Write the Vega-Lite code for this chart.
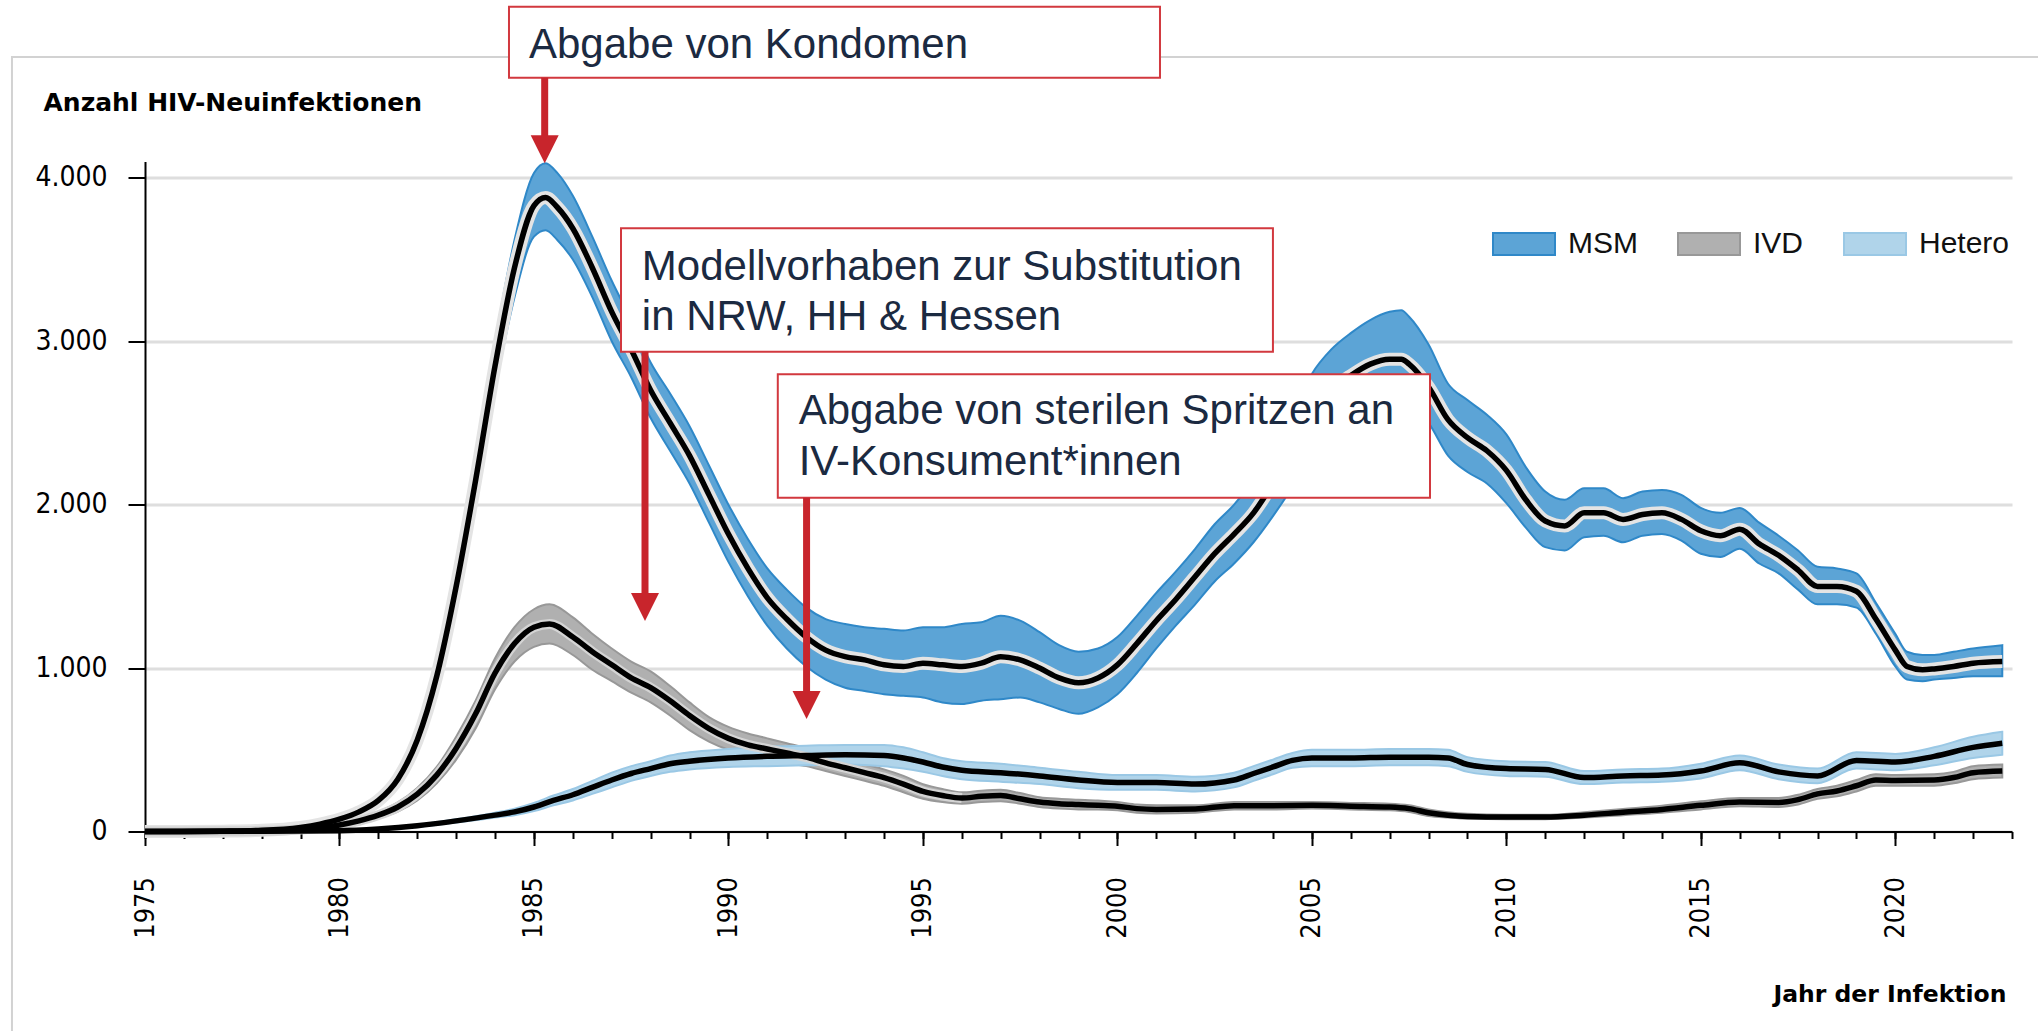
{
  "$schema": "https://vega.github.io/schema/vega-lite/v6.json",
  "width": 1867,
  "height": 670,
  "autosize": {"type": "none"},
  "padding": {"left": 145, "top": 161.5, "right": 26, "bottom": 199.5},
  "background": "white",
  "config": {"view": {"stroke": null}},
  "resolve": {"axis": {"x": "independent"}},
  "datasets": {
    "frame": [{"x": 1971.58, "x2": 2030, "v": 4739.6, "v2": -3000}],
    "curves": [
      {"g":"MSM","x":1975,"lo":0,"m":0,"hi":0},
      {"g":"MSM","x":1976,"lo":0,"m":0,"hi":1},
      {"g":"MSM","x":1977,"lo":0,"m":2,"hi":4},
      {"g":"MSM","x":1978,"lo":4,"m":7,"hi":10},
      {"g":"MSM","x":1979,"lo":18,"m":25,"hi":32},
      {"g":"MSM","x":1979.5,"lo":35,"m":45,"hi":55},
      {"g":"MSM","x":1980,"lo":62,"m":75,"hi":88},
      {"g":"MSM","x":1980.5,"lo":102,"m":120,"hi":138},
      {"g":"MSM","x":1981,"lo":165,"m":190,"hi":215},
      {"g":"MSM","x":1981.5,"lo":285,"m":320,"hi":355},
      {"g":"MSM","x":1982,"lo":505,"m":560,"hi":615},
      {"g":"MSM","x":1982.5,"lo":870,"m":950,"hi":1030},
      {"g":"MSM","x":1983,"lo":1390,"m":1500,"hi":1610},
      {"g":"MSM","x":1983.5,"lo":2020,"m":2150,"hi":2280},
      {"g":"MSM","x":1984,"lo":2700,"m":2850,"hi":3000},
      {"g":"MSM","x":1984.5,"lo":3270,"m":3450,"hi":3620},
      {"g":"MSM","x":1985,"lo":3640,"m":3830,"hi":4030},
      {"g":"MSM","x":1985.3,"lo":3680,"m":3880,"hi":4090},
      {"g":"MSM","x":1985.6,"lo":3620,"m":3820,"hi":4030},
      {"g":"MSM","x":1986,"lo":3500,"m":3690,"hi":3890},
      {"g":"MSM","x":1986.5,"lo":3270,"m":3450,"hi":3640},
      {"g":"MSM","x":1987,"lo":3000,"m":3180,"hi":3370},
      {"g":"MSM","x":1987.5,"lo":2780,"m":2950,"hi":3130},
      {"g":"MSM","x":1988,"lo":2530,"m":2700,"hi":2870},
      {"g":"MSM","x":1988.5,"lo":2330,"m":2500,"hi":2680},
      {"g":"MSM","x":1989,"lo":2130,"m":2300,"hi":2480},
      {"g":"MSM","x":1989.5,"lo":1890,"m":2060,"hi":2240},
      {"g":"MSM","x":1990,"lo":1650,"m":1820,"hi":2000},
      {"g":"MSM","x":1990.5,"lo":1440,"m":1610,"hi":1790},
      {"g":"MSM","x":1991,"lo":1260,"m":1430,"hi":1610},
      {"g":"MSM","x":1991.5,"lo":1120,"m":1300,"hi":1480},
      {"g":"MSM","x":1992,"lo":1010,"m":1190,"hi":1370},
      {"g":"MSM","x":1992.5,"lo":930,"m":1110,"hi":1300},
      {"g":"MSM","x":1993,"lo":880,"m":1070,"hi":1270},
      {"g":"MSM","x":1993.5,"lo":860,"m":1050,"hi":1250},
      {"g":"MSM","x":1994,"lo":840,"m":1020,"hi":1240},
      {"g":"MSM","x":1994.5,"lo":830,"m":1010,"hi":1230},
      {"g":"MSM","x":1995,"lo":820,"m":1030,"hi":1250},
      {"g":"MSM","x":1995.5,"lo":790,"m":1020,"hi":1250},
      {"g":"MSM","x":1996,"lo":780,"m":1010,"hi":1270},
      {"g":"MSM","x":1996.5,"lo":800,"m":1030,"hi":1280},
      {"g":"MSM","x":1997,"lo":810,"m":1070,"hi":1320},
      {"g":"MSM","x":1997.5,"lo":820,"m":1050,"hi":1290},
      {"g":"MSM","x":1998,"lo":790,"m":1000,"hi":1220},
      {"g":"MSM","x":1998.5,"lo":750,"m":940,"hi":1140},
      {"g":"MSM","x":1999,"lo":720,"m":910,"hi":1100},
      {"g":"MSM","x":1999.5,"lo":760,"m":940,"hi":1120},
      {"g":"MSM","x":2000,"lo":840,"m":1020,"hi":1190},
      {"g":"MSM","x":2000.5,"lo":970,"m":1150,"hi":1320},
      {"g":"MSM","x":2001,"lo":1120,"m":1290,"hi":1460},
      {"g":"MSM","x":2001.5,"lo":1260,"m":1420,"hi":1590},
      {"g":"MSM","x":2002,"lo":1390,"m":1560,"hi":1730},
      {"g":"MSM","x":2002.5,"lo":1530,"m":1700,"hi":1880},
      {"g":"MSM","x":2003,"lo":1640,"m":1820,"hi":2000},
      {"g":"MSM","x":2003.5,"lo":1770,"m":1950,"hi":2150},
      {"g":"MSM","x":2004,"lo":1930,"m":2130,"hi":2330},
      {"g":"MSM","x":2004.5,"lo":2110,"m":2330,"hi":2550},
      {"g":"MSM","x":2005,"lo":2330,"m":2560,"hi":2800},
      {"g":"MSM","x":2005.5,"lo":2470,"m":2700,"hi":2950},
      {"g":"MSM","x":2006,"lo":2550,"m":2790,"hi":3050},
      {"g":"MSM","x":2006.5,"lo":2620,"m":2860,"hi":3130},
      {"g":"MSM","x":2007,"lo":2650,"m":2890,"hi":3180},
      {"g":"MSM","x":2007.3,"lo":2650,"m":2890,"hi":3190},
      {"g":"MSM","x":2007.5,"lo":2620,"m":2860,"hi":3150},
      {"g":"MSM","x":2008,"lo":2500,"m":2720,"hi":2980},
      {"g":"MSM","x":2008.5,"lo":2300,"m":2520,"hi":2740},
      {"g":"MSM","x":2009,"lo":2200,"m":2410,"hi":2640},
      {"g":"MSM","x":2009.5,"lo":2130,"m":2330,"hi":2550},
      {"g":"MSM","x":2010,"lo":2010,"m":2210,"hi":2430},
      {"g":"MSM","x":2010.5,"lo":1860,"m":2030,"hi":2230},
      {"g":"MSM","x":2011,"lo":1740,"m":1900,"hi":2080},
      {"g":"MSM","x":2011.5,"lo":1720,"m":1870,"hi":2030},
      {"g":"MSM","x":2012,"lo":1800,"m":1950,"hi":2100},
      {"g":"MSM","x":2012.5,"lo":1810,"m":1950,"hi":2100},
      {"g":"MSM","x":2013,"lo":1770,"m":1910,"hi":2040},
      {"g":"MSM","x":2013.5,"lo":1810,"m":1940,"hi":2080},
      {"g":"MSM","x":2014,"lo":1820,"m":1950,"hi":2090},
      {"g":"MSM","x":2014.5,"lo":1780,"m":1910,"hi":2060},
      {"g":"MSM","x":2015,"lo":1700,"m":1840,"hi":1980},
      {"g":"MSM","x":2015.5,"lo":1680,"m":1810,"hi":1950},
      {"g":"MSM","x":2016,"lo":1730,"m":1850,"hi":1980},
      {"g":"MSM","x":2016.5,"lo":1640,"m":1760,"hi":1890},
      {"g":"MSM","x":2017,"lo":1580,"m":1690,"hi":1810},
      {"g":"MSM","x":2017.5,"lo":1480,"m":1600,"hi":1720},
      {"g":"MSM","x":2018,"lo":1390,"m":1500,"hi":1620},
      {"g":"MSM","x":2018.5,"lo":1390,"m":1500,"hi":1610},
      {"g":"MSM","x":2019,"lo":1370,"m":1470,"hi":1580},
      {"g":"MSM","x":2019.5,"lo":1210,"m":1300,"hi":1400},
      {"g":"MSM","x":2020,"lo":1010,"m":1110,"hi":1210},
      {"g":"MSM","x":2020.3,"lo":930,"m":1010,"hi":1100},
      {"g":"MSM","x":2020.7,"lo":920,"m":990,"hi":1080},
      {"g":"MSM","x":2021,"lo":930,"m":995,"hi":1080},
      {"g":"MSM","x":2021.5,"lo":940,"m":1010,"hi":1100},
      {"g":"MSM","x":2022,"lo":950,"m":1030,"hi":1120},
      {"g":"MSM","x":2022.75,"lo":950,"m":1040,"hi":1140},

      {"g":"IVD","x":1975,"lo":0,"m":0,"hi":0},
      {"g":"IVD","x":1977,"lo":0,"m":1,"hi":2},
      {"g":"IVD","x":1978,"lo":2,"m":4,"hi":6},
      {"g":"IVD","x":1979,"lo":8,"m":12,"hi":16},
      {"g":"IVD","x":1980,"lo":30,"m":40,"hi":50},
      {"g":"IVD","x":1980.5,"lo":50,"m":65,"hi":80},
      {"g":"IVD","x":1981,"lo":80,"m":100,"hi":120},
      {"g":"IVD","x":1981.5,"lo":122,"m":150,"hi":178},
      {"g":"IVD","x":1982,"lo":190,"m":228,"hi":266},
      {"g":"IVD","x":1982.5,"lo":295,"m":345,"hi":395},
      {"g":"IVD","x":1983,"lo":440,"m":510,"hi":580},
      {"g":"IVD","x":1983.5,"lo":630,"m":720,"hi":800},
      {"g":"IVD","x":1984,"lo":870,"m":970,"hi":1060},
      {"g":"IVD","x":1984.5,"lo":1040,"m":1150,"hi":1250},
      {"g":"IVD","x":1985,"lo":1130,"m":1250,"hi":1360},
      {"g":"IVD","x":1985.4,"lo":1150,"m":1270,"hi":1390},
      {"g":"IVD","x":1986,"lo":1080,"m":1190,"hi":1310},
      {"g":"IVD","x":1986.5,"lo":990,"m":1100,"hi":1210},
      {"g":"IVD","x":1987,"lo":920,"m":1020,"hi":1120},
      {"g":"IVD","x":1987.5,"lo":850,"m":940,"hi":1040},
      {"g":"IVD","x":1988,"lo":790,"m":880,"hi":980},
      {"g":"IVD","x":1988.5,"lo":710,"m":800,"hi":890},
      {"g":"IVD","x":1989,"lo":620,"m":710,"hi":790},
      {"g":"IVD","x":1989.5,"lo":550,"m":630,"hi":700},
      {"g":"IVD","x":1990,"lo":500,"m":570,"hi":640},
      {"g":"IVD","x":1990.5,"lo":470,"m":530,"hi":600},
      {"g":"IVD","x":1991,"lo":440,"m":505,"hi":570},
      {"g":"IVD","x":1991.5,"lo":420,"m":480,"hi":540},
      {"g":"IVD","x":1992,"lo":400,"m":455,"hi":510},
      {"g":"IVD","x":1992.5,"lo":370,"m":420,"hi":470},
      {"g":"IVD","x":1993,"lo":340,"m":390,"hi":440},
      {"g":"IVD","x":1993.5,"lo":310,"m":360,"hi":410},
      {"g":"IVD","x":1994,"lo":280,"m":330,"hi":380},
      {"g":"IVD","x":1994.5,"lo":240,"m":290,"hi":340},
      {"g":"IVD","x":1995,"lo":200,"m":245,"hi":290},
      {"g":"IVD","x":1995.5,"lo":180,"m":220,"hi":260},
      {"g":"IVD","x":1996,"lo":170,"m":205,"hi":240},
      {"g":"IVD","x":1996.5,"lo":180,"m":215,"hi":250},
      {"g":"IVD","x":1997,"lo":185,"m":220,"hi":255},
      {"g":"IVD","x":1997.5,"lo":170,"m":200,"hi":235},
      {"g":"IVD","x":1998,"lo":150,"m":180,"hi":210},
      {"g":"IVD","x":1998.5,"lo":140,"m":170,"hi":200},
      {"g":"IVD","x":1999,"lo":135,"m":165,"hi":195},
      {"g":"IVD","x":1999.5,"lo":135,"m":160,"hi":190},
      {"g":"IVD","x":2000,"lo":130,"m":155,"hi":180},
      {"g":"IVD","x":2000.5,"lo":115,"m":140,"hi":165},
      {"g":"IVD","x":2001,"lo":110,"m":135,"hi":160},
      {"g":"IVD","x":2002,"lo":115,"m":138,"hi":160},
      {"g":"IVD","x":2003,"lo":135,"m":158,"hi":180},
      {"g":"IVD","x":2004,"lo":135,"m":158,"hi":180},
      {"g":"IVD","x":2005,"lo":140,"m":160,"hi":180},
      {"g":"IVD","x":2006,"lo":135,"m":155,"hi":175},
      {"g":"IVD","x":2007,"lo":130,"m":150,"hi":170},
      {"g":"IVD","x":2007.5,"lo":120,"m":140,"hi":160},
      {"g":"IVD","x":2008,"lo":95,"m":115,"hi":135},
      {"g":"IVD","x":2008.5,"lo":85,"m":100,"hi":118},
      {"g":"IVD","x":2009,"lo":78,"m":92,"hi":108},
      {"g":"IVD","x":2010,"lo":75,"m":88,"hi":102},
      {"g":"IVD","x":2011,"lo":75,"m":88,"hi":102},
      {"g":"IVD","x":2012,"lo":85,"m":100,"hi":118},
      {"g":"IVD","x":2013,"lo":100,"m":118,"hi":138},
      {"g":"IVD","x":2014,"lo":115,"m":135,"hi":158},
      {"g":"IVD","x":2015,"lo":135,"m":160,"hi":185},
      {"g":"IVD","x":2016,"lo":155,"m":180,"hi":205},
      {"g":"IVD","x":2017,"lo":150,"m":178,"hi":205},
      {"g":"IVD","x":2017.5,"lo":165,"m":195,"hi":225},
      {"g":"IVD","x":2018,"lo":200,"m":230,"hi":260},
      {"g":"IVD","x":2018.5,"lo":215,"m":248,"hi":280},
      {"g":"IVD","x":2019,"lo":245,"m":280,"hi":315},
      {"g":"IVD","x":2019.5,"lo":280,"m":315,"hi":350},
      {"g":"IVD","x":2020,"lo":280,"m":312,"hi":345},
      {"g":"IVD","x":2021,"lo":280,"m":315,"hi":350},
      {"g":"IVD","x":2021.5,"lo":295,"m":330,"hi":365},
      {"g":"IVD","x":2022,"lo":320,"m":360,"hi":400},
      {"g":"IVD","x":2022.75,"lo":330,"m":370,"hi":410},

      {"g":"Hetero","x":1975,"lo":0,"m":0,"hi":0},
      {"g":"Hetero","x":1978,"lo":0,"m":1,"hi":2},
      {"g":"Hetero","x":1980,"lo":2,"m":4,"hi":6},
      {"g":"Hetero","x":1981,"lo":10,"m":15,"hi":20},
      {"g":"Hetero","x":1982,"lo":28,"m":35,"hi":42},
      {"g":"Hetero","x":1983,"lo":55,"m":65,"hi":75},
      {"g":"Hetero","x":1984,"lo":85,"m":100,"hi":115},
      {"g":"Hetero","x":1984.5,"lo":100,"m":120,"hi":140},
      {"g":"Hetero","x":1985,"lo":125,"m":150,"hi":175},
      {"g":"Hetero","x":1985.5,"lo":160,"m":190,"hi":220},
      {"g":"Hetero","x":1986,"lo":190,"m":225,"hi":260},
      {"g":"Hetero","x":1986.5,"lo":230,"m":270,"hi":310},
      {"g":"Hetero","x":1987,"lo":270,"m":315,"hi":360},
      {"g":"Hetero","x":1987.5,"lo":310,"m":355,"hi":400},
      {"g":"Hetero","x":1988,"lo":340,"m":385,"hi":430},
      {"g":"Hetero","x":1988.5,"lo":365,"m":415,"hi":465},
      {"g":"Hetero","x":1989,"lo":380,"m":430,"hi":485},
      {"g":"Hetero","x":1990,"lo":395,"m":450,"hi":505},
      {"g":"Hetero","x":1991,"lo":400,"m":460,"hi":520},
      {"g":"Hetero","x":1992,"lo":405,"m":465,"hi":525},
      {"g":"Hetero","x":1993,"lo":410,"m":470,"hi":530},
      {"g":"Hetero","x":1994,"lo":400,"m":465,"hi":530},
      {"g":"Hetero","x":1994.5,"lo":385,"m":450,"hi":515},
      {"g":"Hetero","x":1995,"lo":365,"m":425,"hi":485},
      {"g":"Hetero","x":1995.5,"lo":340,"m":395,"hi":450},
      {"g":"Hetero","x":1996,"lo":320,"m":375,"hi":430},
      {"g":"Hetero","x":1997,"lo":305,"m":360,"hi":415},
      {"g":"Hetero","x":1998,"lo":290,"m":340,"hi":390},
      {"g":"Hetero","x":1999,"lo":265,"m":315,"hi":365},
      {"g":"Hetero","x":2000,"lo":255,"m":300,"hi":345},
      {"g":"Hetero","x":2001,"lo":255,"m":300,"hi":345},
      {"g":"Hetero","x":2002,"lo":245,"m":290,"hi":335},
      {"g":"Hetero","x":2003,"lo":270,"m":315,"hi":360},
      {"g":"Hetero","x":2003.5,"lo":310,"m":355,"hi":400},
      {"g":"Hetero","x":2004,"lo":350,"m":395,"hi":440},
      {"g":"Hetero","x":2004.5,"lo":390,"m":435,"hi":480},
      {"g":"Hetero","x":2005,"lo":400,"m":450,"hi":500},
      {"g":"Hetero","x":2006,"lo":400,"m":450,"hi":500},
      {"g":"Hetero","x":2007,"lo":405,"m":455,"hi":505},
      {"g":"Hetero","x":2008,"lo":405,"m":455,"hi":505},
      {"g":"Hetero","x":2008.5,"lo":400,"m":450,"hi":500},
      {"g":"Hetero","x":2009,"lo":365,"m":410,"hi":455},
      {"g":"Hetero","x":2010,"lo":340,"m":385,"hi":430},
      {"g":"Hetero","x":2011,"lo":335,"m":380,"hi":425},
      {"g":"Hetero","x":2012,"lo":290,"m":330,"hi":370},
      {"g":"Hetero","x":2013,"lo":300,"m":340,"hi":380},
      {"g":"Hetero","x":2014,"lo":305,"m":345,"hi":385},
      {"g":"Hetero","x":2015,"lo":325,"m":370,"hi":415},
      {"g":"Hetero","x":2016,"lo":375,"m":420,"hi":465},
      {"g":"Hetero","x":2017,"lo":320,"m":365,"hi":410},
      {"g":"Hetero","x":2018,"lo":295,"m":340,"hi":385},
      {"g":"Hetero","x":2019,"lo":385,"m":435,"hi":485},
      {"g":"Hetero","x":2020,"lo":375,"m":425,"hi":475},
      {"g":"Hetero","x":2021,"lo":405,"m":460,"hi":515},
      {"g":"Hetero","x":2022,"lo":450,"m":515,"hi":580},
      {"g":"Hetero","x":2022.75,"lo":470,"m":540,"hi":610}
    ],
    "arrows": [
      {"x": 1985.276, "v": 4612.8, "v2": 4209, "tip": 4089},
      {"x": 1987.855, "v": 2936.1, "v2": 1408, "tip": 1288},
      {"x": 1992.009, "v": 2042.7, "v2": 808, "tip": 688}
    ],
    "boxes": [
      {"x": 1984.358, "x2": 2001.095, "v": 5047.3, "v2": 4612.8},
      {"x": 1987.238, "x2": 2003.999, "v": 3691.3, "v2": 2936.1},
      {"x": 1991.269, "x2": 2008.037, "v": 2797.8, "v2": 2042.7}
    ],
    "texts": [
      {"x": 1984.872, "v": 4735.2, "t": "Abgabe von Kondomen"},
      {"x": 1987.773, "v": 3374.8, "t": "Modellvorhaben zur Substitution"},
      {"x": 1987.773, "v": 3068.8, "t": "in NRW, HH & Hessen"},
      {"x": 1991.806, "v": 2493.6, "t": "Abgabe von sterilen Spritzen an"},
      {"x": 1991.806, "v": 2181.5, "t": "IV-Konsument*innen"}
    ]
  },
  "layer": [
    {
      "data": {"name": "curves"},
      "mark": {"type": "area", "interpolate": "monotone", "strokeWidth": 2, "opacity": 1, "fillOpacity": 1},
      "encoding": {
        "x": {
          "field": "x", "type": "quantitative",
          "scale": {"domain": [1975, 2023], "nice": false, "zero": false},
          "axis": {
            "orient": "bottom",
            "values": [1975, 1980, 1985, 1990, 1995, 2000, 2005, 2010, 2015, 2020],
            "format": "d",
            "tickSize": 14,
            "tickColor": "black", "tickWidth": 2,
            "domainColor": "black", "domainWidth": 2,
            "labelAngle": -90, "labelAlign": "right", "labelBaseline": "middle",
            "labelFont": "DejaVu Sans Condensed", "labelFontSize": 27, "labelColor": "black",
            "labelPadding": 31, "labelOverlap": false, "labelFlush": false,
            "grid": false,
            "title": "Jahr der Infektion",
            "titleFont": "DejaVu Sans", "titleFontWeight": "bold", "titleFontSize": 23.5, "titleColor": "black",
            "titleX": 1861, "titleY": 170, "titleAlign": "right", "titleBaseline": "alphabetic"
          }
        },
        "y": {
          "field": "lo", "type": "quantitative",
          "scale": {"domain": [0, 4100], "nice": false},
          "axis": {
            "values": [0, 1000, 2000, 3000, 4000],
            "labelExpr": "replace(format(datum.value, ','), ',', '.')",
            "tickSize": 17, "tickColor": "black", "tickWidth": 2,
            "domainColor": "black", "domainWidth": 2,
            "grid": true, "gridColor": "#dedede", "gridWidth": 3,
            "labelFont": "DejaVu Sans Condensed", "labelFontSize": 28, "labelColor": "black", "labelPadding": 21,
            "title": "Anzahl HIV-Neuinfektionen",
            "titleFont": "DejaVu Sans", "titleFontWeight": "bold", "titleFontSize": 25, "titleColor": "black",
            "titleAngle": 0, "titleX": -102, "titleY": -51.5, "titleAlign": "left", "titleBaseline": "alphabetic"
          }
        },
        "y2": {"field": "hi"},
        "fill": {
          "field": "g", "type": "nominal",
          "scale": {"domain": ["MSM", "IVD", "Hetero"], "range": ["#5ca4d6", "#b0b0b0", "#b0d4ea"]},
          "legend": {
            "orient": "none", "legendX": 1347, "legendY": 50, "direction": "horizontal", "title": null,
            "symbolType": "M-1,-0.355H1V0.355H-1Z", "symbolSize": 3844, "symbolStrokeWidth": 2, "symbolOpacity": 1,
            "labelFont": "Liberation Sans", "labelFontSize": 30, "labelColor": "#111111", "labelOffset": 12,
            "columnPadding": 36, "padding": 0
          }
        },
        "stroke": {
          "field": "g", "type": "nominal",
          "scale": {"domain": ["MSM", "IVD", "Hetero"], "range": ["#2f88c8", "#989898", "#9ac8e5"]},
          "legend": {
            "orient": "none", "legendX": 1347, "legendY": 50, "direction": "horizontal", "title": null,
            "symbolType": "M-1,-0.355H1V0.355H-1Z", "symbolSize": 3844, "symbolStrokeWidth": 2, "symbolOpacity": 1,
            "labelFont": "Liberation Sans", "labelFontSize": 30, "labelColor": "#111111", "labelOffset": 12,
            "columnPadding": 36, "padding": 0
          }
        },
        "detail": {"field": "g"}
      }
    },
    {
      "data": {"name": "curves"},
      "transform": [{"filter": "datum.g === 'MSM'"}],
      "mark": {"type": "line", "interpolate": "monotone", "stroke": "#e4e4e4", "strokeWidth": 13},
      "encoding": {
        "x": {
          "field": "x", "type": "quantitative",
          "axis": {
            "orient": "bottom",
            "values": [1975,1976,1977,1978,1979,1980,1981,1982,1983,1984,1985,1986,1987,1988,1989,1990,1991,1992,1993,1994,1995,1996,1997,1998,1999,2000,2001,2002,2003,2004,2005,2006,2007,2008,2009,2010,2011,2012,2013,2014,2015,2016,2017,2018,2019,2020,2021,2022,2023],
            "tickSize": 7, "tickColor": "black", "tickWidth": 2,
            "labels": false, "domain": false, "grid": false, "title": null
          }
        },
        "y": {"field": "m", "type": "quantitative"}
      }
    },
    {
      "data": {"name": "curves"},
      "transform": [{"filter": "datum.g === 'IVD' && datum.x <= 1996"}],
      "mark": {"type": "line", "interpolate": "monotone", "stroke": "#d4d4d4", "strokeWidth": 10},
      "encoding": {
        "x": {"field": "x", "type": "quantitative", "axis": null},
        "y": {"field": "m", "type": "quantitative"}
      }
    },
    {
      "data": {"name": "curves"},
      "mark": {"type": "line", "interpolate": "monotone", "stroke": "black", "strokeWidth": 5.5},
      "encoding": {
        "x": {"field": "x", "type": "quantitative", "axis": null},
        "y": {"field": "m", "type": "quantitative"},
        "detail": {"field": "g"}
      }
    },
    {
      "data": {"name": "frame"},
      "mark": {"type": "rect", "filled": false, "stroke": "#d2d2d2", "strokeWidth": 2, "clip": false},
      "encoding": {
        "x": {"field": "x", "type": "quantitative", "axis": null},
        "x2": {"field": "x2"},
        "y": {"field": "v", "type": "quantitative"},
        "y2": {"field": "v2"}
      }
    },
    {
      "data": {"name": "boxes"},
      "mark": {"type": "rect", "fill": "white", "stroke": "#d2393f", "strokeWidth": 2, "clip": false},
      "encoding": {
        "x": {"field": "x", "type": "quantitative", "axis": null},
        "x2": {"field": "x2"},
        "y": {"field": "v", "type": "quantitative"},
        "y2": {"field": "v2"}
      }
    },
    {
      "data": {"name": "arrows"},
      "mark": {"type": "rule", "stroke": "#c8252c", "strokeWidth": 7, "clip": false},
      "encoding": {
        "x": {"field": "x", "type": "quantitative", "axis": null},
        "y": {"field": "v", "type": "quantitative"},
        "y2": {"field": "v2"}
      }
    },
    {
      "data": {"name": "arrows"},
      "mark": {"type": "point", "shape": "M-1,-2L1,-2L0,0Z", "size": 784, "filled": true, "fill": "#c8252c", "strokeWidth": 0, "opacity": 1, "clip": false},
      "encoding": {
        "x": {"field": "x", "type": "quantitative", "axis": null},
        "y": {"field": "tip", "type": "quantitative"}
      }
    },
    {
      "data": {"name": "texts"},
      "mark": {"type": "text", "align": "left", "baseline": "alphabetic", "font": "Liberation Sans", "fontSize": 42, "fill": "#1b2a41", "clip": false},
      "encoding": {
        "x": {"field": "x", "type": "quantitative", "axis": null},
        "y": {"field": "v", "type": "quantitative"},
        "text": {"field": "t"}
      }
    }
  ]
}
